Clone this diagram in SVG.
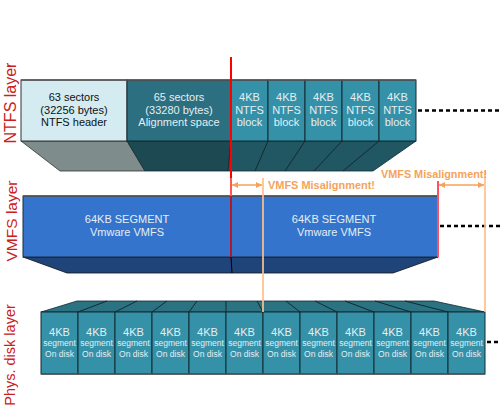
<svg xmlns="http://www.w3.org/2000/svg" width="500" height="408" viewBox="0 0 500 408">
<defs>
<style>
.lbl{font-family:"Liberation Sans",Arial,sans-serif;fill:#cc2020}
.t{font-family:"Liberation Sans",Arial,sans-serif;font-size:11px;text-anchor:middle;fill:#e4eef2}
.td{font-family:"Liberation Sans",Arial,sans-serif;font-size:11px;text-anchor:middle;fill:#111}
.s{font-family:"Liberation Sans",Arial,sans-serif;font-size:8.5px;text-anchor:middle;fill:#e4eef2}
.o{font-family:"Liberation Sans",Arial,sans-serif;font-size:11.5px;font-weight:bold;fill:#f5a35a}
.blk{fill:#3591a8;stroke:#122a30;stroke-width:1}
.ln{stroke:#122a30;stroke-width:1;fill:none}
.dot{stroke:#000;stroke-width:2.5;stroke-dasharray:4 3;fill:none}
.arr{stroke:#f5a35a;stroke-width:1.5;fill:none;marker-start:url(#ah);marker-end:url(#ah)}
.vo{stroke:#ffbf8c;stroke-width:2;opacity:0.85}
</style>
<marker id="ah" viewBox="0 0 10 10" refX="10" refY="5" markerWidth="6" markerHeight="6" orient="auto-start-reverse" markerUnits="userSpaceOnUse">
<path d="M0,0 L10,5 L0,10 z" fill="#f5a35a"/>
</marker>
</defs>
<rect width="500" height="408" fill="#fff"/>

<text class="lbl" font-size="16" transform="translate(16,103) rotate(-90)" text-anchor="middle">NTFS layer</text>
<text class="lbl" font-size="15.5" transform="translate(17,221) rotate(-90)" text-anchor="middle">VMFS layer</text>
<text class="lbl" font-size="14.5" transform="translate(15,355) rotate(-90)" text-anchor="middle">Phys. disk layer</text>

<g id="ntfs">
<polygon points="21,141 127,141 145,171 60,171" fill="#7f8c8c" stroke="#333" stroke-width="0.8"/>
<polygon points="127,141 231,141 228,171 145,171" fill="#1d4953" stroke="#122a30" stroke-width="0.8"/>
<polygon points="231,141 416,141 373,171 228,171" fill="#215762" stroke="#122a30" stroke-width="0.8"/>
<line class="ln" x1="268" y1="141" x2="255" y2="171"/>
<line class="ln" x1="305" y1="141" x2="285" y2="171"/>
<line class="ln" x1="342" y1="141" x2="314" y2="171"/>
<line class="ln" x1="379" y1="141" x2="343" y2="171"/>
<rect x="21" y="80" width="106" height="61" fill="#d4ebf1" stroke="#333" stroke-width="1"/>
<rect x="127" y="80" width="104" height="61" fill="#2b6f80" stroke="#122a30" stroke-width="1"/>
<rect class="blk" x="231" y="80" width="37" height="61"/>
<rect class="blk" x="268" y="80" width="37" height="61"/>
<rect class="blk" x="305" y="80" width="37" height="61"/>
<rect class="blk" x="342" y="80" width="37" height="61"/>
<rect class="blk" x="379" y="80" width="37" height="61"/>
<line x1="21" y1="80" x2="416" y2="80" stroke="#555" stroke-width="1.5"/>
<text class="td" x="74" y="101">63 sectors</text>
<text class="td" x="74" y="114">(32256 bytes)</text>
<text class="td" x="74" y="126">NTFS header</text>
<text class="t" x="179" y="101">65 sectors</text>
<text class="t" x="179" y="114">(33280 bytes)</text>
<text class="t" x="179" y="126">Alignment space</text>
<g>
<text class="t" x="249.5" y="101">4KB</text><text class="t" x="249.5" y="114">NTFS</text><text class="t" x="249.5" y="126">block</text>
<text class="t" x="286.5" y="101">4KB</text><text class="t" x="286.5" y="114">NTFS</text><text class="t" x="286.5" y="126">block</text>
<text class="t" x="323.5" y="101">4KB</text><text class="t" x="323.5" y="114">NTFS</text><text class="t" x="323.5" y="126">block</text>
<text class="t" x="360.5" y="101">4KB</text><text class="t" x="360.5" y="114">NTFS</text><text class="t" x="360.5" y="126">block</text>
<text class="t" x="397.5" y="101">4KB</text><text class="t" x="397.5" y="114">NTFS</text><text class="t" x="397.5" y="126">block</text>
</g>
</g>

<g id="vmfs">
<polygon points="23,257 438,257 393,273 67,273" fill="#1f4479" stroke="#111" stroke-width="0.8"/>
<rect x="23" y="196" width="415" height="61" fill="#3574cc" stroke="#1a2a40" stroke-width="1"/>
<line x1="23" y1="196" x2="438" y2="196" stroke="#555" stroke-width="1.5"/>
<line x1="231" y1="257" x2="232" y2="273" stroke="#000" stroke-width="1"/>
<text class="t" x="127" y="223">64KB SEGMENT</text>
<text class="t" x="127" y="236">Vmware VMFS</text>
<text class="t" x="334" y="223">64KB SEGMENT</text>
<text class="t" x="334" y="236">Vmware VMFS</text>
</g>

<g id="disk">
<polygon points="41,312 77,301 434,301 485,312" fill="#2b7282" stroke="#122a30" stroke-width="0.8"/>
<line class="ln" x1="78" y1="312" x2="107" y2="301"/>
<line class="ln" x1="115" y1="312" x2="137" y2="301"/>
<line class="ln" x1="152" y1="312" x2="167" y2="301"/>
<line class="ln" x1="189" y1="312" x2="197" y2="301"/>
<line class="ln" x1="226" y1="312" x2="226" y2="301"/>
<line class="ln" x1="263" y1="312" x2="257" y2="301"/>
<line class="ln" x1="300" y1="312" x2="286" y2="301"/>
<line class="ln" x1="337" y1="312" x2="315" y2="301"/>
<line class="ln" x1="374" y1="312" x2="345" y2="301"/>
<line class="ln" x1="411" y1="312" x2="375" y2="301"/>
<line class="ln" x1="448" y1="312" x2="405" y2="301"/>
<g>
<rect class="blk" x="41" y="312" width="37" height="62"/>
<rect class="blk" x="78" y="312" width="37" height="62"/>
<rect class="blk" x="115" y="312" width="37" height="62"/>
<rect class="blk" x="152" y="312" width="37" height="62"/>
<rect class="blk" x="189" y="312" width="37" height="62"/>
<rect class="blk" x="226" y="312" width="37" height="62"/>
<rect class="blk" x="263" y="312" width="37" height="62"/>
<rect class="blk" x="300" y="312" width="37" height="62"/>
<rect class="blk" x="337" y="312" width="37" height="62"/>
<rect class="blk" x="374" y="312" width="37" height="62"/>
<rect class="blk" x="411" y="312" width="37" height="62"/>
<rect class="blk" x="448" y="312" width="37" height="62"/>
</g>
<line x1="41" y1="374" x2="485" y2="374" stroke="#555" stroke-width="1.5"/>
<g>
<text class="t" x="59.5" y="336">4KB</text><text class="s" x="59.5" y="346">segment</text><text class="s" x="59.5" y="357" font-size="9">On disk</text>
<text class="t" x="96.5" y="336">4KB</text><text class="s" x="96.5" y="346">segment</text><text class="s" x="96.5" y="357" font-size="9">On disk</text>
<text class="t" x="133.5" y="336">4KB</text><text class="s" x="133.5" y="346">segment</text><text class="s" x="133.5" y="357" font-size="9">On disk</text>
<text class="t" x="170.5" y="336">4KB</text><text class="s" x="170.5" y="346">segment</text><text class="s" x="170.5" y="357" font-size="9">On disk</text>
<text class="t" x="207.5" y="336">4KB</text><text class="s" x="207.5" y="346">segment</text><text class="s" x="207.5" y="357" font-size="9">On disk</text>
<text class="t" x="244.5" y="336">4KB</text><text class="s" x="244.5" y="346">segment</text><text class="s" x="244.5" y="357" font-size="9">On disk</text>
<text class="t" x="281.5" y="336">4KB</text><text class="s" x="281.5" y="346">segment</text><text class="s" x="281.5" y="357" font-size="9">On disk</text>
<text class="t" x="318.5" y="336">4KB</text><text class="s" x="318.5" y="346">segment</text><text class="s" x="318.5" y="357" font-size="9">On disk</text>
<text class="t" x="355.5" y="336">4KB</text><text class="s" x="355.5" y="346">segment</text><text class="s" x="355.5" y="357" font-size="9">On disk</text>
<text class="t" x="392.5" y="336">4KB</text><text class="s" x="392.5" y="346">segment</text><text class="s" x="392.5" y="357" font-size="9">On disk</text>
<text class="t" x="429.5" y="336">4KB</text><text class="s" x="429.5" y="346">segment</text><text class="s" x="429.5" y="357" font-size="9">On disk</text>
<text class="t" x="466.5" y="336">4KB</text><text class="s" x="466.5" y="346">segment</text><text class="s" x="466.5" y="357" font-size="9">On disk</text>
</g>
</g>

<g id="connectors">
<line class="dot" x1="418" y1="110.5" x2="500" y2="110.5"/>
<line class="dot" x1="440" y1="226" x2="500" y2="226"/>
<line class="dot" x1="487" y1="342" x2="500" y2="342"/>
<line x1="231" y1="57" x2="231" y2="196" stroke="#ff0000" stroke-width="2"/>
<line x1="231" y1="196" x2="231" y2="257" stroke="#b0182c" stroke-width="2"/>
<line x1="231" y1="178" x2="231" y2="196" stroke="#ff9090" stroke-width="2" opacity="0.6"/>
<line x1="438" y1="181" x2="438" y2="257" stroke="#ff5060" stroke-width="2"/>
<line class="vo" x1="263" y1="178" x2="263" y2="312"/>
<line class="vo" x1="485" y1="170" x2="485" y2="312"/>
<line class="arr" x1="232" y1="185" x2="262" y2="185"/>
<line class="arr" x1="439" y1="185" x2="484" y2="185"/>
<text class="o" x="268" y="189" textLength="107" lengthAdjust="spacingAndGlyphs">VMFS Misalignment!</text>
<text class="o" x="381" y="178" textLength="106" lengthAdjust="spacingAndGlyphs">VMFS Misalignment!</text>
</g>
</svg>
